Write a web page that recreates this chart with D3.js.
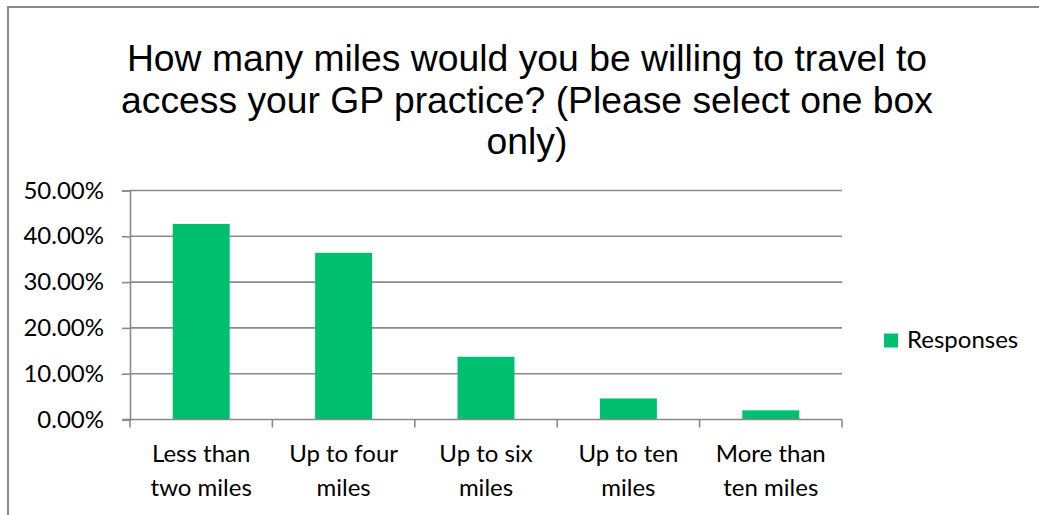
<!DOCTYPE html>
<html>
<head>
    <title>GP practice travel</title>
    <script src="https://d3js.org/d3.v7.min.js"></script>
    <style>
        body { margin: 0; background: #fff; }
        svg { display: block; }
    </style>
</head>
<body>
    <div id="vis"></div>
    <script>
        // data
        var categories = [["Less than", "two miles"], ["Up to four", "miles"], ["Up to six", "miles"], ["Up to ten", "miles"], ["More than", "ten miles"]];
        var responses = [0.427, 0.364, 0.137, 0.046, 0.020];
        var yTicks = [0, 0.1, 0.2, 0.3, 0.4, 0.5];
        var titleLines = ["How many miles would you be willing to travel to", "access your GP practice? (Please select one box", "only)"];
        var seriesName = "Responses";

        var W = 1039, H = 515;
        var plotLeft = 130, plotRight = 842, plotTop = 190.5, plotBottom = 419.5;
        var grey = "#898989", green = "#00bf6f";
        var labelFont = "Lato, 'Open Sans', sans-serif";
        var labelSize = 24;

        var svg = d3.select("#vis").append("svg")
            .attr("width", W)
            .attr("height", H);

        svg.append("rect").attr("width", W).attr("height", H).attr("fill", "#fff");

        // chart border (runs off right/bottom)
        svg.append("rect")
            .attr("x", 8).attr("y", 7)
            .attr("width", W + 20).attr("height", H + 20)
            .attr("fill", "none")
            .attr("stroke", grey)
            .attr("stroke-width", 2);

        // title
        svg.append("g").selectAll("text")
            .data(titleLines)
            .enter().append("text")
            .attr("x", 527)
            .attr("y", function(d, i) { return 71 + i * 41.5; })
            .attr("text-anchor", "middle")
            .attr("font-family", "'Liberation Sans', Arial, sans-serif")
            .attr("font-size", 37.3)
            .attr("fill", "#000")
            .text(function(d) { return d; });

        var xScale = d3.scaleBand()
            .domain(d3.range(categories.length))
            .range([plotLeft, plotRight])
            .paddingInner(0.6)
            .paddingOuter(0.3);

        var yScale = d3.scaleLinear()
            .domain([0, 0.5])
            .range([plotBottom, plotTop]);

        // gridlines
        svg.append("g").selectAll("line")
            .data(yTicks.filter(function(d) { return d > 0; }))
            .enter().append("line")
            .attr("x1", plotLeft).attr("x2", plotRight)
            .attr("y1", function(d) { return yScale(d); })
            .attr("y2", function(d) { return yScale(d); })
            .attr("stroke", grey)
            .attr("stroke-width", 1.6);

        // y axis
        var yAxis = svg.append("g")
            .attr("transform", "translate(" + plotLeft + ",0)")
            .call(d3.axisLeft(yScale).tickValues(yTicks).tickSize(8).tickPadding(18).tickFormat(d3.format(".2%")));
        yAxis.select(".domain").attr("stroke", grey).attr("stroke-width", 1.6);
        yAxis.selectAll(".tick line").attr("stroke", grey).attr("stroke-width", 1.6);
        yAxis.selectAll(".tick text")
            .attr("font-family", labelFont)
            .attr("font-size", labelSize)
            .attr("fill", "#000");

        // bars
        svg.append("g").selectAll("rect")
            .data(responses)
            .enter().append("rect")
            .attr("x", function(d, i) { return xScale(i); })
            .attr("y", function(d) { return yScale(d); })
            .attr("width", xScale.bandwidth())
            .attr("height", function(d) { return yScale(0) - yScale(d); })
            .attr("fill", green);

        // x axis line and ticks at category boundaries
        var bounds = d3.range(categories.length + 1).map(function(i) { return plotLeft + i * xScale.step(); });
        svg.append("line")
            .attr("x1", plotLeft - 8).attr("x2", plotRight)
            .attr("y1", yScale(0)).attr("y2", yScale(0))
            .attr("stroke", grey).attr("stroke-width", 1.6);
        svg.append("g").selectAll("line")
            .data(bounds)
            .enter().append("line")
            .attr("x1", function(d) { return d; }).attr("x2", function(d) { return d; })
            .attr("y1", yScale(0)).attr("y2", yScale(0) + 8)
            .attr("stroke", grey).attr("stroke-width", 1.6);

        // category labels
        var catG = svg.append("g").selectAll("text")
            .data(categories)
            .enter().append("text")
            .attr("text-anchor", "middle")
            .attr("font-family", labelFont)
            .attr("font-size", labelSize)
            .attr("fill", "#000");
        catG.selectAll("tspan")
            .data(function(d, i) { return d.map(function(t) { return { t: t, i: i }; }); })
            .enter().append("tspan")
            .attr("x", function(d) { return xScale(d.i) + xScale.bandwidth() / 2; })
            .attr("y", function(d, j) { return 462 + j * 34; })
            .text(function(d) { return d.t; });

        // legend
        svg.append("rect")
            .attr("x", 884).attr("y", 333.5)
            .attr("width", 14).attr("height", 14)
            .attr("fill", green);
        svg.append("text")
            .attr("x", 907).attr("y", 348)
            .attr("font-family", labelFont)
            .attr("font-size", labelSize)
            .attr("fill", "#000")
            .text(seriesName);
    </script>
</body>
</html>
